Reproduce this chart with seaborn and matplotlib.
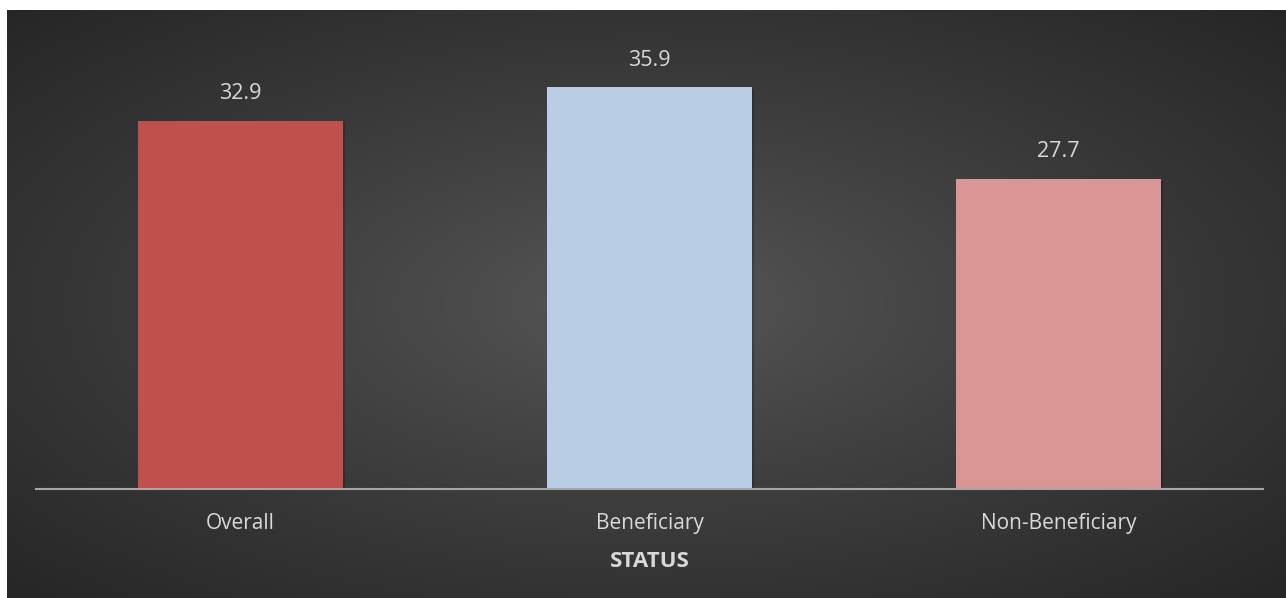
import numpy as np
import pandas as pd
import matplotlib
matplotlib.use("Agg")
import matplotlib.pyplot as plt
import matplotlib.patheffects as pe
import seaborn as sns

# Share of respondents by status
categories = ["Overall", "Beneficiary", "Non-Beneficiary"]
values = [32.9, 35.9, 27.7]
bar_colors = ["#C0504D", "#B9CDE5", "#D99694"]
x_title = "STATUS"

df = pd.DataFrame({"status": categories, "value": values})

sns.set_theme(style="white")
plt.rcParams["font.family"] = ["Open Sans", "DejaVu Sans"]

W, H = 1286, 598
fig = plt.figure(figsize=(W / 100, H / 100), dpi=100, facecolor="white")

# Dark panel with a radial gradient, lighter toward the centre
bg = fig.add_axes([7 / W, 0, (W - 7) / W, (H - 10) / H])
bg.set_axis_off()
gx = np.linspace(-1, 1, 600)
gy = np.linspace(-1, 1, 300)
GX, GY = np.meshgrid(gx, gy)
r = np.clip(np.sqrt(GX ** 2 + GY ** 2) / np.sqrt(2), 0, 1)
shade = 0.345 - 0.195 * r ** 0.85
img = np.dstack([shade, shade, shade])
bg.imshow(img, aspect="auto", extent=[0, 1, 0, 1], interpolation="bilinear")
bg.set_xlim(0, 1)
bg.set_ylim(0, 1)

ax = fig.add_axes([36 / W, 1 - 489 / H, (1263 - 36) / W, (489 - 10) / H])
ax.set_facecolor("none")
sns.barplot(data=df, x="status", y="value", hue="status", palette=bar_colors,
            legend=False, width=0.5, ax=ax, saturation=1)

shadow = [pe.SimplePatchShadow(offset=(1.5, -1.5), shadow_rgbFace="black", alpha=0.2),
          pe.Normal()]
for patch in ax.patches:
    patch.set_path_effects(shadow)
    patch.set_linewidth(0)

for i, v in enumerate(values):
    ax.annotate(f"{v:.1f}", xy=(i, v), xytext=(0, 19.5), textcoords="offset points",
                ha="center", va="center", color="#D9D9D9", fontsize=15.5)

ax.set_xlim(-0.5, 2.5)
ax.set_ylim(0, 42.8)
ax.set_yticks([])
ax.set_ylabel("")
ax.set_xlabel(x_title, color="#D9D9D9", fontsize=16, fontweight="bold", labelpad=12.5)
ax.tick_params(axis="x", colors="#D9D9D9", labelsize=15, length=0, pad=17)
for side in ["top", "left", "right"]:
    ax.spines[side].set_visible(False)
ax.spines["bottom"].set_color("#A6A6A6")
ax.spines["bottom"].set_linewidth(1.5)

fig.savefig("out.png", dpi=100, facecolor="white")
